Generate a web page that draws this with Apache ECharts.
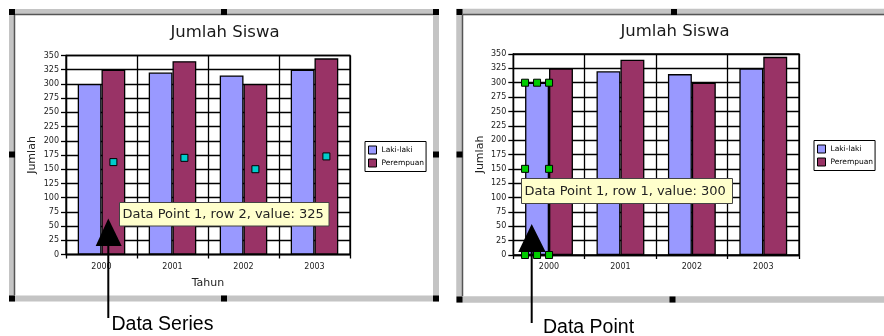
<!DOCTYPE html>
<html><head><meta charset="utf-8">
<script src="https://cdn.jsdelivr.net/npm/echarts@6/dist/echarts.min.js"></script>
<style>html,body{margin:0;padding:0;background:#fff}#c{width:884px;height:336px}</style>
</head><body><div id="c"></div>
<script>
const categories = ['2000', '2001', '2002', '2003'];
const lakiLaki = [300, 320, 315, 325];
const perempuan = [325, 340, 300, 345];
const seriesNames = ['Laki-laki', 'Perempuan'];
const yMin = 0, yMax = 350, yStep = 25;
const chartTitle = 'Jumlah Siswa';
const yName = 'Jumlah';
const xName = 'Tahun';

const FONT = 'DejaVu Sans';
const LW = 1.3;
const chart = echarts.init(document.getElementById('c'), null, {renderer: 'canvas'});

function xAxis(i, withName) {
  return {
    type: 'category', gridIndex: i, data: categories, boundaryGap: true,
    axisLine: {show: true, lineStyle: {color: '#000', width: LW}},
    axisTick: {show: true, length: 4, lineStyle: {color: '#000', width: LW}},
    axisLabel: {fontSize: 8, color: '#222', margin: 8, fontFamily: FONT},
    splitLine: {show: true, lineStyle: {color: '#000', width: LW}},
    name: withName ? xName : '', nameLocation: 'middle', nameGap: 23,
    nameTextStyle: {fontSize: 11, color: '#222', fontFamily: FONT}
  };
}
function yAxis(i) {
  return {
    type: 'value', gridIndex: i, min: yMin, max: yMax, interval: yStep,
    axisLine: {show: true, lineStyle: {color: '#000', width: LW}},
    axisTick: {show: true, length: 5, lineStyle: {color: '#000', width: LW}},
    axisLabel: {fontSize: 8, color: '#222', margin: 7, fontFamily: FONT},
    splitLine: {show: true, lineStyle: {color: '#000', width: LW}},
    name: yName, nameLocation: 'middle', nameGap: 28,
    nameTextStyle: {fontSize: 11, color: '#222', fontFamily: FONT}
  };
}
function legend(left, top) {
  return {
    orient: 'vertical', left: left, top: top, data: seriesNames,
    itemWidth: 8, itemHeight: 8, itemGap: 4, padding: [4, 2, 4, 3],
    borderColor: '#000', borderWidth: 1, backgroundColor: '#fff',
    icon: 'rect', itemStyle: {borderColor: '#000', borderWidth: 1},
    textStyle: {fontSize: 7.5, color: '#000', fontFamily: FONT}
  };
}
const lakiStyle = {color: '#9999ff', borderColor: '#000', borderWidth: LW};
const perStyle = {color: '#993366', borderColor: '#000', borderWidth: LW};

const cyanMarks = perempuan.map((v, i) => ({coord: [categories[i], v / 2]}));
const sel = lakiLaki[0], hw = 12;
const greenMarks = [
  {coord: [categories[0], sel], symbolOffset: [-hw, 0]},
  {coord: [categories[0], sel]},
  {coord: [categories[0], sel], symbolOffset: [hw, 0]},
  {coord: [categories[0], sel / 2], symbolOffset: [-hw, 0]},
  {coord: [categories[0], sel / 2], symbolOffset: [hw, 0]},
  {coord: [categories[0], 0], symbolOffset: [-hw, 0]},
  {coord: [categories[0], 0]},
  {coord: [categories[0], 0], symbolOffset: [hw, 0]}
];

function handle(cx, cy) {
  return {type: 'rect', z: 100, shape: {x: cx - 3, y: cy - 3, width: 6, height: 6}, style: {fill: '#000'}};
}
function line(x1, y1, x2, y2, color, w) {
  return {type: 'line', z: 99, shape: {x1, y1, x2, y2}, style: {stroke: color, lineWidth: w}};
}
const graphics = [
  {type: 'rect', z: 98, shape: {x: 12, y: 12, width: 424, height: 286.5}, style: {fill: 'none', stroke: '#c4c4c4', lineWidth: 6}},
  line(15, 14.5, 433, 14.5, '#555', 1.5), line(14.5, 15, 14.5, 295, '#555', 1.5),
  handle(12, 12), handle(224, 12), handle(436, 12), handle(12, 154.5), handle(436, 154.5),
  handle(12, 298.5), handle(224, 298.5), handle(436, 298.5),
  {type: 'rect', z: 98, shape: {x: 459.5, y: 12, width: 440, height: 287.5}, style: {fill: 'none', stroke: '#c4c4c4', lineWidth: 6.5}},
  line(463, 14.5, 884, 14.5, '#555', 1.5), line(462.5, 15, 462.5, 296, '#555', 1.5),
  handle(459.5, 12), handle(674, 12), handle(459.5, 154.5), handle(459.5, 299.5), handle(672.5, 299.5),
  // tooltips
  {type: 'rect', z: 110, shape: {x: 119.5, y: 202.5, width: 209.5, height: 23.5}, style: {fill: '#ffffcc', stroke: '#444', lineWidth: 1}},
  {type: 'text', z: 111, x: 122.5, y: 214.5, style: {text: 'Data Point 1, row 2, value: ' + perempuan[0], fontSize: 13, fontFamily: FONT, fill: '#222', align: 'left', verticalAlign: 'middle'}},
  {type: 'rect', z: 110, shape: {x: 521.5, y: 178.5, width: 211, height: 25}, style: {fill: '#ffffcc', stroke: '#444', lineWidth: 1}},
  {type: 'text', z: 111, x: 524.5, y: 191.2, style: {text: 'Data Point 1, row 1, value: ' + lakiLaki[0], fontSize: 13, fontFamily: FONT, fill: '#222', align: 'left', verticalAlign: 'middle'}},
  // arrows
  {type: 'polygon', z: 112, shape: {points: [[108.3, 218.5], [95.7, 246], [121.7, 246]]}, style: {fill: '#000'}},
  {type: 'line', z: 112, shape: {x1: 108.3, y1: 244, x2: 108.3, y2: 318}, style: {stroke: '#000', lineWidth: 2}},
  {type: 'polygon', z: 112, shape: {points: [[531.7, 224], [518.3, 252], [545.7, 252]]}, style: {fill: '#000'}},
  {type: 'line', z: 112, shape: {x1: 531.7, y1: 250, x2: 531.7, y2: 323}, style: {stroke: '#000', lineWidth: 2}},
  {type: 'text', z: 112, x: 111.5, y: 325, style: {text: 'Data Series', fontSize: 19.5, fontFamily: 'Liberation Sans', fill: '#000', align: 'left', verticalAlign: 'middle'}},
  {type: 'text', z: 112, x: 543, y: 328, style: {text: 'Data Point', fontSize: 19.5, fontFamily: 'Liberation Sans', fill: '#000', align: 'left', verticalAlign: 'middle'}}
];

chart.setOption({
  animation: false,
  backgroundColor: '#fff',
  title: [
    {text: chartTitle, left: 225, top: 24.5, padding: 0, textAlign: 'center', textStyle: {fontSize: 16.5, fontWeight: 'normal', color: '#1a1a1a', fontFamily: FONT}},
    {text: chartTitle, left: 675, top: 23.5, padding: 0, textAlign: 'center', textStyle: {fontSize: 16.5, fontWeight: 'normal', color: '#1a1a1a', fontFamily: FONT}}
  ],
  legend: [legend(365, 141.5), legend(814, 140.5)],
  grid: [
    {left: 66, top: 55.5, width: 284, height: 199, containLabel: false, outerBoundsMode: 'none', show: true, borderColor: '#000', borderWidth: LW, backgroundColor: '#fff'},
    {left: 513.3, top: 54, width: 285.7, height: 201, containLabel: false, outerBoundsMode: 'none', show: true, borderColor: '#000', borderWidth: LW, backgroundColor: '#fff'}
  ],
  xAxis: [xAxis(0, true), xAxis(1, false)],
  yAxis: [yAxis(0), yAxis(1)],
  series: [
    {type: 'bar', name: seriesNames[0], xAxisIndex: 0, yAxisIndex: 0, data: lakiLaki, itemStyle: lakiStyle, barGap: '0%', barCategoryGap: '33%'},
    {type: 'bar', name: seriesNames[1], xAxisIndex: 0, yAxisIndex: 0, data: perempuan, itemStyle: perStyle, barGap: '0%', barCategoryGap: '33%',
      markPoint: {symbol: 'rect', symbolSize: 7, label: {show: false}, itemStyle: {color: '#00cccc', borderColor: '#000', borderWidth: 1}, data: cyanMarks}},
    {type: 'bar', name: seriesNames[0], xAxisIndex: 1, yAxisIndex: 1, data: lakiLaki, itemStyle: lakiStyle, barGap: '0%', barCategoryGap: '33%',
      markPoint: {symbol: 'rect', symbolSize: 7, label: {show: false}, itemStyle: {color: '#00cc00', borderColor: '#000', borderWidth: 1}, data: greenMarks}},
    {type: 'bar', name: seriesNames[1], xAxisIndex: 1, yAxisIndex: 1, data: perempuan, itemStyle: perStyle, barGap: '0%', barCategoryGap: '33%'}
  ],
  graphic: graphics
});
</script></body></html>
